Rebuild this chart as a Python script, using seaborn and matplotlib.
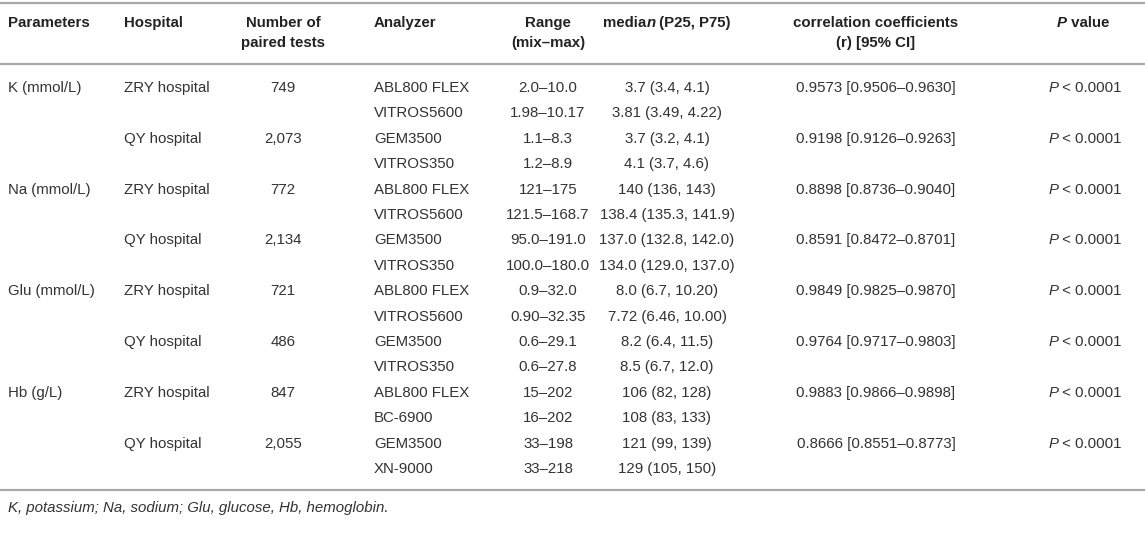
import seaborn as sns
import matplotlib
matplotlib.use("Agg")
from matplotlib import pyplot as plt

sns.set_theme(style="white")
plt.rcParams['font.family'] = ['Liberation Sans', 'DejaVu Sans']

# table data
parameters = ["K (mmol/L)", "Na (mmol/L)", "Glu (mmol/L)", "Hb (g/L)"]
hospitals = ["ZRY hospital", "QY hospital"]
paired_tests = ["749", "2,073", "772", "2,134", "721", "486", "847", "2,055"]
analyzers = ["ABL800 FLEX", "VITROS5600", "GEM3500", "VITROS350",
             "ABL800 FLEX", "VITROS5600", "GEM3500", "VITROS350",
             "ABL800 FLEX", "VITROS5600", "GEM3500", "VITROS350",
             "ABL800 FLEX", "BC-6900", "GEM3500", "XN-9000"]
ranges = ["2.0–10.0", "1.98–10.17", "1.1–8.3", "1.2–8.9",
          "121–175", "121.5–168.7", "95.0–191.0", "100.0–180.0",
          "0.9–32.0", "0.90–32.35", "0.6–29.1", "0.6–27.8",
          "15–202", "16–202", "33–198", "33–218"]
medians = ["3.7 (3.4, 4.1)", "3.81 (3.49, 4.22)", "3.7 (3.2, 4.1)", "4.1 (3.7, 4.6)",
           "140 (136, 143)", "138.4 (135.3, 141.9)", "137.0 (132.8, 142.0)", "134.0 (129.0, 137.0)",
           "8.0 (6.7, 10.20)", "7.72 (6.46, 10.00)", "8.2 (6.4, 11.5)", "8.5 (6.7, 12.0)",
           "106 (82, 128)", "108 (83, 133)", "121 (99, 139)", "129 (105, 150)"]
correlations = ["0.9573 [0.9506–0.9630]", "0.9198 [0.9126–0.9263]",
                "0.8898 [0.8736–0.9040]", "0.8591 [0.8472–0.8701]",
                "0.9849 [0.9825–0.9870]", "0.9764 [0.9717–0.9803]",
                "0.9883 [0.9866–0.9898]", "0.8666 [0.8551–0.8773]"]
p_values = ["< 0.0001"] * 8
footnote = "K, potassium; Na, sodium; Glu, glucose, Hb, hemoglobin."

fig = plt.figure(figsize=(11.45, 5.35), dpi=100)
ax = fig.add_axes([0, 0, 1, 1])
ax.set_xlim(0, 1145)
ax.set_ylim(535, 0)
ax.axis("off")

fs = 10.8
txt = "#333333"
rule = "#a8a8a8"

# column anchors
x_par, x_hosp, x_num, x_ana = 8, 124, 283, 374
x_rng, x_med, x_cor, x_p = 548, 667, 876, 1085

# rows
y0, pitch = 88, 25.4
y_last = y0 + (len(analyzers) - 1) * pitch

# rules
for y in [3, 64, y_last + 21]:
    ax.axhline(y, color=rule, lw=1.6)

fig.canvas.draw()
rend = fig.canvas.get_renderer()


def rich(x, y, pieces, **kw):
    # pieces of text with different styles, centred as a whole at x
    items = [ax.text(0, y, s, style=st, ha="left", **kw) for s, st in pieces]
    widths = [it.get_window_extent(renderer=rend).width for it in items]
    x0 = x - sum(widths) / 2
    for it, w in zip(items, widths):
        it.set_x(x0)
        x0 += w


# header
hy1, hy2 = 23, 43
hkw = dict(fontsize=fs, fontweight="bold", color="#222222", va="center")
ax.text(x_par, hy1, "Parameters", ha="left", **hkw)
ax.text(x_hosp, hy1, "Hospital", ha="left", **hkw)
ax.text(x_num, hy1, "Number of", ha="center", **hkw)
ax.text(x_num, hy2, "paired tests", ha="center", **hkw)
ax.text(x_ana, hy1, "Analyzer", ha="left", **hkw)
ax.text(x_rng, hy1, "Range", ha="center", **hkw)
ax.text(x_rng, hy2, "(mix–max)", ha="center", **hkw)
rich(x_med, hy1, [("media", "normal"), ("n", "italic"), (" (P25, P75)", "normal")], **hkw)
ax.text(x_cor, hy1, "correlation coefficients", ha="center", **hkw)
ax.text(x_cor, hy2, "(r) [95% CI]", ha="center", **hkw)
rich(x_p - 2, hy1, [("P", "italic"), (" value", "normal")], **hkw)

# body
bkw = dict(fontsize=fs, color=txt, va="center")
for i in range(len(analyzers)):
    y = y0 + i * pitch
    if i % 4 == 0:
        ax.text(x_par, y, parameters[i // 4], ha="left", **bkw)
    if i % 2 == 0:
        j = i // 2
        ax.text(x_hosp, y, hospitals[j % 2], ha="left", **bkw)
        ax.text(x_num, y, paired_tests[j], ha="center", **bkw)
        ax.text(x_cor, y, correlations[j], ha="center", **bkw)
        rich(x_p, y, [("P", "italic"), (" " + p_values[j], "normal")], **bkw)
    ax.text(x_ana, y, analyzers[i], ha="left", **bkw)
    ax.text(x_rng, y, ranges[i], ha="center", **bkw)
    ax.text(x_med, y, medians[i], ha="center", **bkw)

ax.text(x_par, y_last + 39, footnote, ha="left", style="italic", **bkw)

fig.savefig("out.png", dpi=100)
